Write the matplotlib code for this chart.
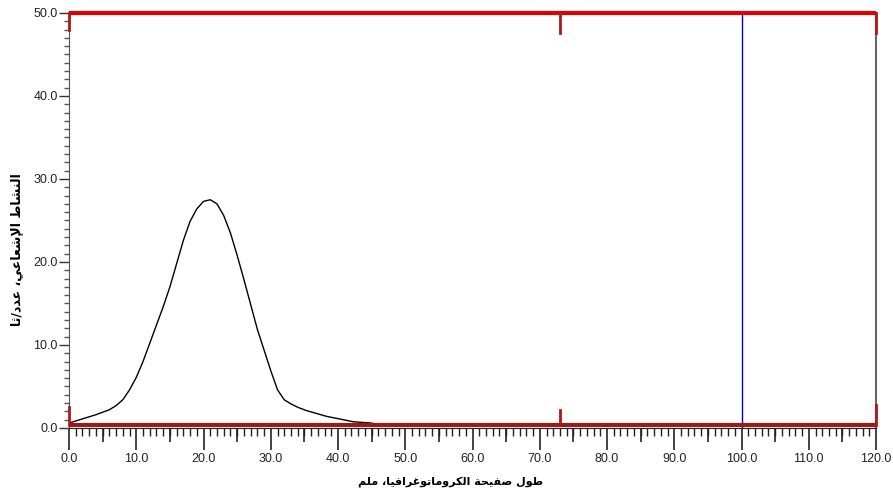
import numpy as np
from matplotlib import pyplot as plt
from matplotlib.ticker import MultipleLocator, FormatStrFormatter

# scan trace (mm along the strip, counts/s)
POSITIONS = [0.0, 0.2, 2.0, 4.0, 6.0, 7.0, 8.0, 9.0, 10.0, 11.0, 12.0, 13.0,
             14.0, 15.0, 16.0, 17.0, 18.0, 19.0, 20.0, 21.0, 22.0, 23.0, 24.0,
             25.0, 26.0, 27.0, 28.0, 29.0, 30.0, 31.0, 32.0, 33.0, 34.0, 35.3,
             38.3, 42.3, 44.8, 46.0, 60.0, 80.0, 100.0, 120.0]
ACTIVITY = [0.5, 0.64, 1.1, 1.6, 2.2, 2.7, 3.4, 4.6, 6.1, 8.0, 10.2, 12.4,
            14.6, 17.0, 19.8, 22.6, 24.9, 26.4, 27.3, 27.5, 27.0, 25.6, 23.5,
            20.8, 17.9, 14.9, 11.9, 9.4, 6.9, 4.6, 3.4, 2.9, 2.5, 2.1,
            1.4, 0.75, 0.6, 0.45, 0.35, 0.35, 0.35, 0.35]

BASELINE = 0.35
REGION_MARKS = [0.0, 73.0, 120.0]
MARK_BOTTOM = [2.5, 2.2, 2.8]
MARK_TOP = [48.0, 47.6, 47.6]
CURSOR = 100.0

X_LABEL = 'طول صفيحة الكروماتوغرافيا، ملم'
Y_LABEL = 'النشاط الإشعاعي، عدد/ثا'

# presentation forms: isolated, final, initial, medial
AR_FORMS = {
    'ا': '\ufe8d\ufe8e', 'إ': '\ufe87\ufe88', 'ة': '\ufe93\ufe94',
    'د': '\ufea9\ufeaa', 'ر': '\ufead\ufeae', 'و': '\ufeed\ufeee',
    'ت': '\ufe95\ufe96\ufe97\ufe98', 'ث': '\ufe99\ufe9a\ufe9b\ufe9c',
    'ح': '\ufea1\ufea2\ufea3\ufea4', 'ش': '\ufeb5\ufeb6\ufeb7\ufeb8',
    'ص': '\ufeb9\ufeba\ufebb\ufebc', 'ط': '\ufec1\ufec2\ufec3\ufec4',
    'ع': '\ufec9\ufeca\ufecb\ufecc', 'غ': '\ufecd\ufece\ufecf\ufed0',
    'ف': '\ufed1\ufed2\ufed3\ufed4', 'ك': '\ufed9\ufeda\ufedb\ufedc',
    'ل': '\ufedd\ufede\ufedf\ufee0', 'م': '\ufee1\ufee2\ufee3\ufee4',
    'ن': '\ufee5\ufee6\ufee7\ufee8', 'ي': '\ufef1\ufef2\ufef3\ufef4',
    '\x01': '\ufefb\ufefc', '\x02': '\ufef9\ufefa',
}


def shape(text):
    # matplotlib has no arabic shaping, so do the joining + rtl by hand
    text = text.replace('لا', '\x01').replace('لإ', '\x02')
    out = []
    for i, ch in enumerate(text):
        if ch not in AR_FORMS:
            out.append(ch)
            continue
        prev = text[i - 1] if i > 0 else ''
        nxt = text[i + 1] if i + 1 < len(text) else ''
        f = AR_FORMS[ch]
        join_prev = prev in AR_FORMS and len(AR_FORMS[prev]) == 4
        join_next = len(f) == 4 and nxt in AR_FORMS
        if join_prev and join_next:
            out.append(f[3])
        elif join_prev:
            out.append(f[1])
        elif join_next:
            out.append(f[2])
        else:
            out.append(f[0])
    return ''.join(reversed(out))


plt.rcParams['font.family'] = ['Liberation Sans', 'DejaVu Sans']

fig = plt.figure(figsize=(8.93, 4.99), dpi=100)
ax = fig.add_axes([0.0773, 0.1423, 0.9037, 0.8317])

ax.plot(POSITIONS, ACTIVITY, color='black', lw=1.0, zorder=3)

# baseline and region markers
ax.plot([0, 120], [BASELINE, BASELINE], color='#a01818', lw=3, zorder=4,
        solid_capstyle='butt', clip_on=False)
ax.plot([0, 120], [50, 50], color='#e00000', lw=3, zorder=4,
        solid_capstyle='butt', clip_on=False)
for xm, yb, yt in zip(REGION_MARKS, MARK_BOTTOM, MARK_TOP):
    ax.plot([xm, xm], [BASELINE, yb], color='#b01818', lw=2, zorder=4, clip_on=False)
    ax.plot([xm, xm], [yt, 50], color='#b01818', lw=2, zorder=4, clip_on=False)
ax.axvline(CURSOR, color='#0000cc', lw=1, zorder=3)

ax.set_xlim(0, 120)
ax.set_ylim(0, 50)

ax.xaxis.set_major_locator(MultipleLocator(10))
ax.xaxis.set_minor_locator(MultipleLocator(1))
ax.yaxis.set_major_locator(MultipleLocator(10))
ax.yaxis.set_minor_locator(MultipleLocator(1))
ax.xaxis.set_major_formatter(FormatStrFormatter('%.1f'))
ax.yaxis.set_major_formatter(FormatStrFormatter('%.1f'))

ax.tick_params(axis='x', which='major', length=16, width=1.2, color='#222222',
               labelsize=9, labelcolor='#222222', pad=2)
ax.tick_params(axis='x', which='minor', length=6, width=1, color='#222222')
ax.tick_params(axis='y', which='major', length=7, width=1, color='#333333',
               labelsize=9, labelcolor='#222222', pad=1)
ax.tick_params(axis='y', which='minor', length=3.5, width=1, color='#555555')

# medium ticks at the fives
mid = ax.secondary_xaxis('bottom')
mid.set_xticks(np.arange(5, 120, 10))
mid.tick_params(length=10, width=1.2, color='#222222', labelbottom=False)
mid.spines['bottom'].set_visible(False)

ax.spines['top'].set_visible(False)
ax.spines['left'].set_color('#555555')
ax.spines['right'].set_color('#666666')
ax.spines['right'].set_linewidth(1.5)
ax.spines['bottom'].set_color('#222222')

fig.text(0.505, 0.034, shape(X_LABEL), ha='center', va='center', fontsize=8,
         fontweight='bold', family=['DejaVu Sans'])
fig.text(0.018, 0.50, shape(Y_LABEL), ha='center', va='center', fontsize=9,
         fontweight='bold', rotation=90, family=['DejaVu Sans'])

fig.savefig('out.png', dpi=100, facecolor='white')
